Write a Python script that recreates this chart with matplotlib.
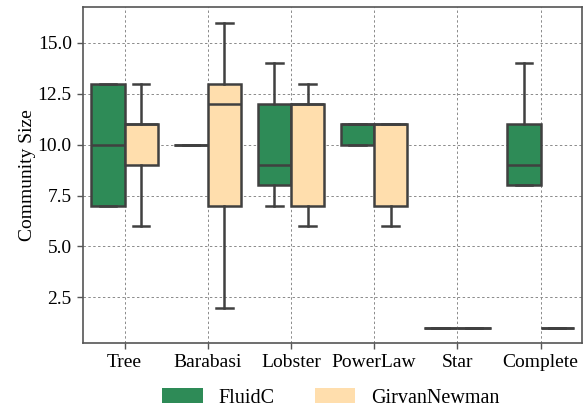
import matplotlib
matplotlib.use("Agg")
import matplotlib.pyplot as plt
from matplotlib.patches import Patch

plt.rcParams['font.family'] = ['Liberation Serif', 'DejaVu Serif']
plt.rcParams['font.size'] = 14

categories = ["Tree", "Barabasi", "Lobster", "PowerLaw", "Star", "Complete"]
methods = ["FluidC", "GirvanNewman"]
colors = ["#2e8b57", "#ffdead"]

# community sizes per graph type and method
fluidc = {
    "Tree":     [7, 7, 10, 13, 13],
    "Barabasi": [10, 10, 10],
    "Lobster":  [7, 8, 8, 9, 12, 12, 14],
    "PowerLaw": [10, 10, 11, 11, 11],
    "Star":     [1, 1, 1],
    "Complete": [8, 8, 8, 9, 11, 11, 14],
}
girvan_newman = {
    "Tree":     [6, 9, 9, 11, 11, 11, 13],
    "Barabasi": [2, 7, 7, 12, 13, 13, 16],
    "Lobster":  [6, 7, 7, 12, 12, 12, 13],
    "PowerLaw": [6, 7, 7, 11, 11, 11, 11],
    "Star":     [1, 1, 1],
    "Complete": [1, 1, 1],
}
series = [fluidc, girvan_newman]

fig = plt.figure(figsize=(5.88, 4.09), dpi=100)
ax = fig.add_axes([0.141, 0.161, 0.849, 0.821])

edge = "#404040"
width = 0.4
for k, (data, col) in enumerate(zip(series, colors)):
    offset = -0.2 + 0.4 * k
    pos = [i + offset for i in range(len(categories))]
    vals = [data[c] for c in categories]
    ax.boxplot(vals, positions=pos, widths=width, patch_artist=True,
               showfliers=False, manage_ticks=False,
               boxprops=dict(facecolor=col, edgecolor=edge, linewidth=1.8),
               medianprops=dict(color=edge, linewidth=1.8),
               whiskerprops=dict(color=edge, linewidth=1.8),
               capprops=dict(color=edge, linewidth=1.8), zorder=3)

ax.set_xlim(-0.5, len(categories) - 0.5)
ax.set_ylim(0.25, 16.75)
ax.set_xticks(range(len(categories)))
ax.set_xticklabels(categories)
ax.set_yticks([2.5, 5.0, 7.5, 10.0, 12.5, 15.0])
ax.set_yticklabels(["2.5", "5.0", "7.5", "10.0", "12.5", "15.0"])
ax.set_ylabel("Community Size", labelpad=1.5)
ax.tick_params(length=4, width=1.0, color="#555555", pad=4)
ax.grid(True, linestyle=(0, (2.5, 2.5)), color="#8a8a8a", linewidth=0.7, zorder=0)
ax.set_axisbelow(True)
for s in ax.spines.values():
    s.set_color("#555555")
    s.set_linewidth(1.2)

handles = [Patch(facecolor=c, edgecolor="none", label=m) for c, m in zip(colors, methods)]
fig.legend(handles=handles, loc="center", bbox_to_anchor=(0.563, 0.027), ncol=2,
           frameon=False, handlelength=2.0, handleheight=0.75, handletextpad=0.8,
           columnspacing=2.0, fontsize=14.5, borderaxespad=0, borderpad=0)

fig.savefig("out.png", dpi=100)
